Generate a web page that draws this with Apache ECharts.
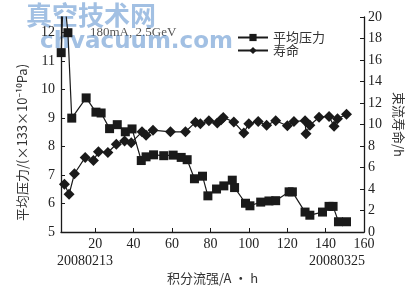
<!DOCTYPE html>
<html>
<head>
<meta charset="utf-8">
<script src="https://cdn.jsdelivr.net/npm/echarts@6/dist/echarts.min.js"></script>
<style>html,body{margin:0;padding:0;background:#fff}#c{width:415px;height:290px}</style>
</head>
<body>
<div id="c"></div>
<script>
// Integrated current (A·h) and average pressure (×133×10^-10 Pa)
const pressureX = [2.3, 3.5, 5.8, 7.8, 15.3, 20.4, 23.1, 27.5, 31.5, 35.7, 39.2, 44.0, 46.5, 50.4, 55.7, 60.6, 64.8, 67.9, 71.7, 75.9, 78.7, 83.2, 87.0, 91.4, 92.6, 98.3, 100.6, 106.2, 110.5, 114.0, 121.0, 122.7, 129.3, 131.8, 138.4, 141.8, 143.9, 146.7, 150.9];
const pressureY = [11.3, 13.5, 12.0, 9.0, 9.71, 9.21, 9.18, 8.63, 8.77, 8.52, 8.62, 7.51, 7.64, 7.71, 7.68, 7.70, 7.62, 7.54, 6.87, 6.96, 6.27, 6.51, 6.62, 6.82, 6.56, 6.01, 5.92, 6.05, 6.09, 6.10, 6.41, 6.41, 5.70, 5.59, 5.70, 5.90, 5.90, 5.36, 5.36];
// Integrated current (A·h) and beam lifetime (h)
const lifeX = [4.0, 6.4, 9.2, 14.8, 19.1, 21.7, 26.6, 31.0, 35.3, 38.8, 44.4, 46.5, 50.1, 59.2, 67.0, 72.2, 74.8, 79.2, 83.6, 85.6, 86.7, 92.2, 97.4, 100.0, 104.9, 109.3, 114.0, 120.1, 123.5, 129.3, 129.8, 131.8, 136.6, 141.8, 144.4, 146.2, 150.9];
const lifeY = [4.45, 3.50, 5.42, 6.94, 6.64, 7.46, 7.40, 8.16, 8.47, 8.31, 9.32, 9.01, 9.47, 9.32, 9.32, 10.2, 10.07, 10.35, 10.14, 10.44, 10.66, 10.23, 9.22, 10.07, 10.29, 9.93, 10.35, 9.89, 10.29, 10.35, 9.13, 9.93, 10.68, 10.75, 9.84, 10.53, 10.96];
const xTicks = [20, 40, 60, 80, 100, 120, 140, 160];
const leftTicks = [5, 6, 7, 8, 9, 10, 11, 12];
const rightTicks = [0, 2, 4, 6, 8, 10, 12, 14, 16, 18, 20];
const seriesNames = ['平均压力', '寿命'];
const dateLabels = ['20080213', '20080325'];

const serif = '"Liberation Serif","DejaVu Serif",serif';
const cjk = '"Noto Sans CJK SC","Noto Sans",sans-serif';
const ink = '#1a1a1a';

const chart = echarts.init(document.getElementById('c'), null, {renderer: 'canvas'});
chart.setOption({
  animation: false,
  backgroundColor: '#fff',
  grid: {left: 61, right: 51, top: 17, bottom: 54},
  legend: {
    orient: 'vertical', left: 232, top: 26, itemGap: 0,
    itemWidth: 30, itemHeight: 9,
    textStyle: {fontFamily: cjk, fontSize: 13, color: '#333', lineHeight: 11},
    data: seriesNames
  },
  xAxis: {
    type: 'value', min: 2.2, max: 160,
    axisLine: {lineStyle: {color: ink, width: 1.3}},
    axisTick: {inside: true, length: 4, customValues: xTicks, lineStyle: {color: ink}},
    axisLabel: {customValues: xTicks, fontFamily: serif, fontSize: 14, color: '#222', margin: 5},
    splitLine: {show: false},
    name: '积分流强/A • h', nameLocation: 'middle', nameGap: 40,
    nameTextStyle: {fontFamily: cjk, fontSize: 13, color: '#333'}
  },
  yAxis: [{
    type: 'value', min: 5, max: 5 + 219 / 29, position: 'left',
    axisLine: {show: true, lineStyle: {color: ink, width: 1.3}},
    axisTick: {show: true, inside: true, length: 4, customValues: leftTicks, lineStyle: {color: ink}},
    axisLabel: {customValues: leftTicks, fontFamily: serif, fontSize: 14, color: '#222', margin: 6},
    splitLine: {show: false},
    name: '平均压力/(×133×10⁻¹⁰Pa)', nameLocation: 'middle', nameGap: 32,
    nameTextStyle: {fontFamily: cjk, fontSize: 13, color: '#333', padding: [0, 36, 0, 0]}
  }, {
    type: 'value', min: 0, max: 20, position: 'right',
    axisLine: {show: true, lineStyle: {color: ink, width: 1.3}},
    axisTick: {show: true, inside: true, length: 4, customValues: rightTicks, lineStyle: {color: ink}},
    axisLabel: {customValues: rightTicks, fontFamily: serif, fontSize: 14, color: '#222', margin: 4},
    splitLine: {show: false},
    name: '束流寿命/h', nameLocation: 'middle', nameGap: 25, nameRotate: -90,
    nameTextStyle: {fontFamily: cjk, fontSize: 13, color: '#333'}
  }],
  series: [{
    name: seriesNames[0], type: 'line', yAxisIndex: 0, clip: true,
    data: pressureX.map((x, i) => [x, pressureY[i]]),
    symbol: 'rect', symbolSize: 9,
    lineStyle: {color: ink, width: 1.2},
    itemStyle: {color: ink}
  }, {
    name: seriesNames[1], type: 'line', yAxisIndex: 1, clip: true,
    data: lifeX.map((x, i) => [x, lifeY[i]]),
    symbol: 'diamond', symbolSize: 11,
    lineStyle: {color: ink, width: 1.2},
    itemStyle: {color: ink}
  }],
  graphic: [
    {type: 'text', left: 90, top: 26, style: {text: '180mA, 2.5GeV', font: '13px ' + serif, fill: '#555'}},
    {type: 'text', x: 85, y: 261, style: {text: dateLabels[0], font: '14px ' + serif, fill: '#222', align: 'center', verticalAlign: 'middle'}},
    {type: 'text', x: 337, y: 261, style: {text: dateLabels[1], font: '14px ' + serif, fill: '#222', align: 'center', verticalAlign: 'middle'}},
    {type: 'text', left: 26, top: 2, style: {text: '真空技术网', font: 'bold 26px ' + cjk, fill: 'rgba(70,130,200,0.5)'}},
    {type: 'text', left: 40, top: 31, style: {text: 'chvacuum.com', font: 'bold 23px "DejaVu Sans",sans-serif', fill: 'rgba(70,130,200,0.5)'}}
  ]
});
</script>
</body>
</html>
